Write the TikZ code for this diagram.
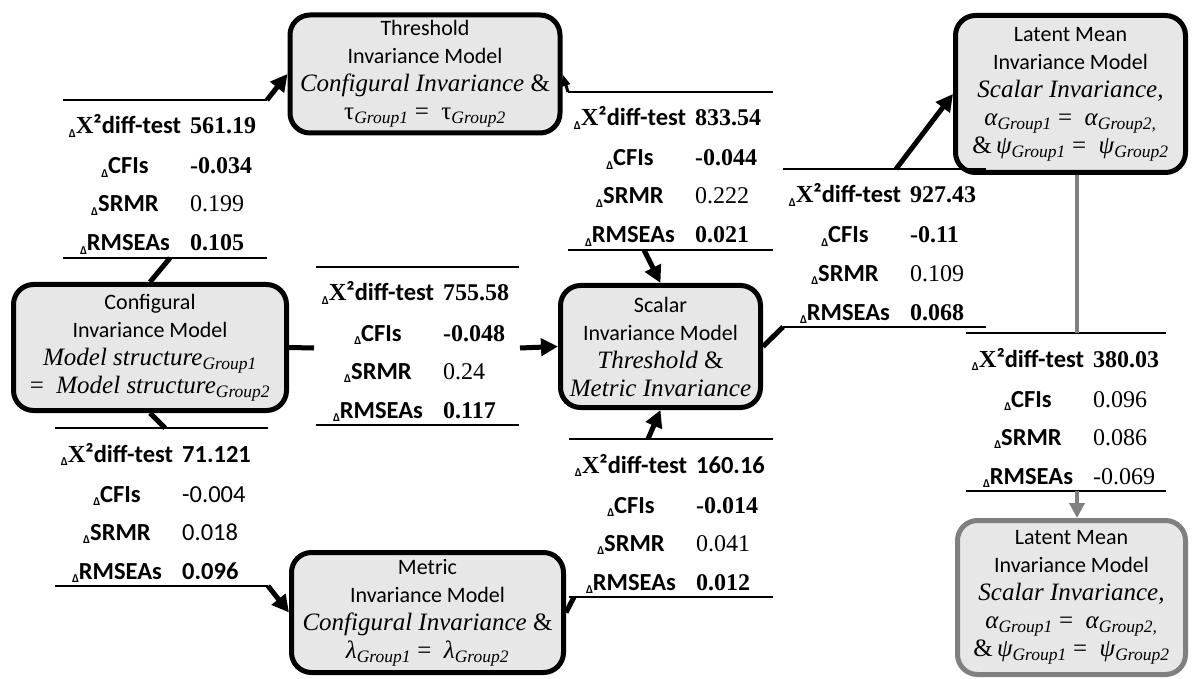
\documentclass[tikz,border=0pt]{standalone}
\usepackage{fontspec}
\setmainfont{Carlito}
\newfontfamily\tnr{Liberation Serif}
\usetikzlibrary{arrows.meta}
\definecolor{boxgray}{RGB}{231,231,231}
\definecolor{linegray}{RGB}{128,128,128}
\newcommand\dsub{\raisebox{-3.5pt}{\fontsize{12}{12}\selectfont\bfseries Δ}}
\newcommand\vTB[1]{{\tnr\bfseries\fontsize{24}{24}\selectfont #1}}
\newcommand\vTR[1]{{\tnr\fontsize{24}{24}\selectfont #1}}
\newcommand\vCB[1]{{\bfseries\fontsize{24.5}{24.5}\selectfont #1}}
\newcommand\vCR[1]{{\fontsize{24.5}{24.5}\selectfont #1}}
\newcommand\mi[1]{{\tnr\itshape\fontsize{25}{28}\selectfont #1}}
\newcommand\gsub[1]{\textsubscript{\tnr\itshape #1}}
\newcommand\eqs{{\tnr\fontsize{25}{28}\selectfont\ =\ \ }}
% #1 name, #2 left x, #3 top y, #4 width, #5-#8 values
\newcommand\stattab[8]{%
  \coordinate (#1-tl) at (#2,#3);
  \coordinate (#1-tr) at (#2+#4,#3);
  \coordinate (#1-bl) at (#2,#3+158);
  \coordinate (#1-br) at (#2+#4,#3+158);
  \draw[tline] (#1-tl) -- (#1-tr);
  \draw[tline] (#1-bl) -- (#1-br);
  \node[lab] (#1-l1) at (#2+62,#3+34) {\dsub{\tnr X}²diff-test};
  \node[lab] (#1-l2) at (#2+62,#3+74) {\dsub CFIs};
  \node[lab] (#1-l3) at (#2+62,#3+112) {\dsub SRMR};
  \node[lab] (#1-l4) at (#2+62,#3+151) {\dsub RMSEAs};
  \node[num] (#1-v1) at (#2+127,#3+34) {#5};
  \node[num] (#1-v2) at (#2+127,#3+74) {#6};
  \node[num] (#1-v3) at (#2+127,#3+112) {#7};
  \node[num] (#1-v4) at (#2+127,#3+151) {#8};
}
\tikzset{
  box/.style={draw=black, line width=5pt, fill=boxgray, rounded corners=20pt,
    inner sep=0pt, align=center, font=\fontsize{22}{28}\selectfont},
  graybox/.style={box, draw=linegray},
  tline/.style={line width=1.5pt, black},
  conn/.style={line width=5pt, black},
  arr/.style={conn, -{Triangle[length=17pt,width=17pt]}},
  spike/.style={line width=3pt, black, -{Triangle[length=12pt,width=8pt]}},
  gconn/.style={line width=4pt, linegray},
  garr/.style={gconn, -{Triangle[length=15pt,width=15pt]}},
  lab/.style={anchor=base, inner sep=0pt, font=\fontsize{24.5}{24.5}\selectfont\bfseries},
  num/.style={anchor=base west, inner sep=0pt},
}
\begin{document}
\begin{tikzpicture}[x=1pt,y=-1pt]
\useasboundingbox (0,0) rectangle (1192,679);

% boxes
\node[box, minimum width=270pt, minimum height=118pt] (thr) at (425,74)
  {Threshold\\Invariance Model\\\mi{Configural Invariance \upshape\&}\\\mi{\upshape τ\gsub{Group1}\eqs τ\gsub{Group2}}};
\node[box, minimum width=273pt, minimum height=126pt] (conf) at (150,347.5)
  {Configural\\Invariance Model\\\mi{Model structure\gsub{Group1}}\\\mi{{\upshape =}\ \ Model structure\gsub{Group2}}};
\node[box, minimum width=200pt, minimum height=122pt] (scal) at (660.5,346.5)
  {Scalar\\Invariance Model\\\mi{Threshold \upshape\&}\\\mi{Metric Invariance}};
\node[box, minimum width=272pt, minimum height=120pt] (met) at (427.5,612.5)
  {Metric\\Invariance Model\\\mi{Configural Invariance \upshape\&}\\\mi{λ\gsub{Group1}{\upshape\eqs}λ\gsub{Group2}}};
\node[box, minimum width=230pt, minimum height=157pt] (lat1) at (1070.5,94)
  {Latent Mean\\Invariance Model\\\mi{Scalar Invariance,}\\\mi{α\gsub{Group1}{\upshape\eqs}α\gsub{Group2,}}\\\mi{{\upshape\&}\,ψ\gsub{Group1}{\upshape\eqs}ψ\gsub{Group2}}};
\node[graybox, minimum width=228pt, minimum height=154pt] (lat2) at (1071.5,597.5)
  {Latent Mean\\Invariance Model\\\mi{Scalar Invariance,}\\\mi{α\gsub{Group1}{\upshape\eqs}α\gsub{Group2,}}\\\mi{{\upshape\&}\,ψ\gsub{Group1}{\upshape\eqs}ψ\gsub{Group2}}};

% tables
\stattab{t1}{63}{100}{204}{\vTB{561.19}}{\vTB{-0.034}}{\vTR{0.199}}{\vTB{0.105}}
\stattab{t2}{568}{92}{205}{\vTB{833.54}}{\vTB{-0.044}}{\vTR{0.222}}{\vTB{0.021}}
\stattab{t3}{783}{169}{203}{\vTB{927.43}}{\vTB{-0.11}}{\vTR{0.109}}{\vTB{0.068}}
\stattab{t4}{966}{333}{200}{\vTB{380.03}}{\vTR{0.096}}{\vTR{0.086}}{\vTR{-0.069}}
\stattab{t5}{316}{267}{203}{\vTB{755.58}}{\vTB{-0.048}}{\vTR{0.24}}{\vTB{0.117}}
\stattab{t6}{55}{428}{213}{\vCB{71.121}}{\vCR{-0.004}}{\vCR{0.018}}{\vCB{0.096}}
\stattab{t7}{569}{439}{204}{\vCB{160.16}}{\vTB{-0.014}}{\vTR{0.041}}{\vTB{0.012}}

% connector points on the tables
\coordinate (t1-bx) at (170,258);
\coordinate (t2-bx) at (644,250);
\coordinate (t5-w) at (314,348);
\coordinate (t5-e) at (520,348);
\coordinate (t6-tx) at (165,428);
\coordinate (t7-bx) at (574,597);
\coordinate (t7-tx) at (648,439);
\coordinate (t3-tx) at (896,169);
\coordinate (t4-tx) at (1077,333);
\coordinate (t4-bx) at (1077,491);

% connectors
\draw[conn] (conf.north) -- (t1-bx);
\draw[arr] (t1-tr) -- (thr.west);
\draw[spike] (t2-tl) -- (thr.east);
\draw[arr] (t2-bx) -- (scal.north);
\draw[conn] (conf.east) -- (t5-w);
\draw[arr] (t5-e) -- (scal.west);
\draw[conn] (conf.south) -- (t6-tx);
\draw[arr] (t6-br) -- (met.west);
\draw[conn] (met.east) -- (t7-bx);
\draw[arr] (t7-tx) -- (scal.south);
\draw[conn] (scal.east) -- (t3-bl);
\draw[arr] (t3-tx) -- (lat1.west);
\draw[gconn] (t4-tx |- lat1.south) -- (t4-tx);
\draw[garr] (t4-bx) -- (t4-bx |- lat2.north);
\end{tikzpicture}
\end{document}
